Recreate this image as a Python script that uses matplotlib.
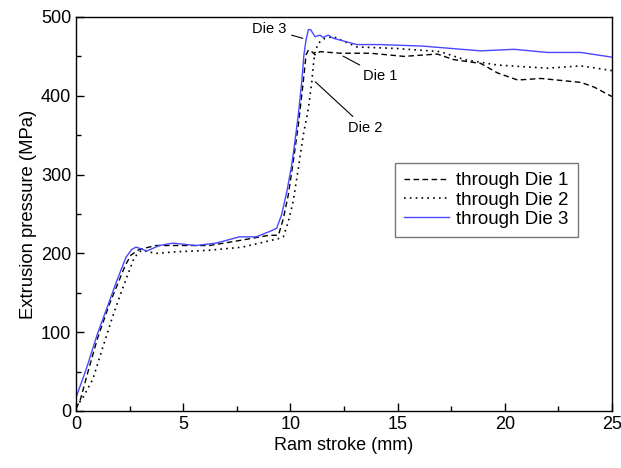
import matplotlib.pyplot as plt
from matplotlib.ticker import MultipleLocator

plt.rcParams['font.family'] = ['Liberation Sans', 'DejaVu Sans']

# through Die 1 (dashed)
x1 = [0, 0.2, 0.54, 1.0, 1.55, 2.0, 2.3, 2.57, 2.95, 3.73, 4.66, 6.22, 7.77, 9.0,
      9.44, 9.67, 9.9, 10.13, 10.37, 10.6, 10.73, 10.84, 11.0, 11.15, 11.38, 12.34,
      13.74, 15.3, 16.85, 17.6, 18.88, 19.66, 20.6, 21.68, 23.55, 24.17, 25.0]
p1 = [3, 14, 48, 92, 135, 165, 185, 198, 205, 210, 210, 210, 217, 223,
      223, 244, 274, 316, 363, 418, 452, 458, 456, 452, 456, 454,
      454, 450, 453, 446, 441, 429, 420, 422, 417, 411, 399]

# through Die 2 (dotted)
x2 = [0, 0.3, 0.78, 1.24, 1.71, 2.1, 2.4, 2.72, 3.05, 3.73, 4.66, 6.22, 7.77,
      9.48, 9.67, 9.9, 10.13, 10.37, 10.6, 10.84, 11.0, 11.07, 11.15, 11.31, 11.61,
      12.0, 13.1, 14.98, 17.0, 18.1, 19.66, 21.99, 23.55, 25.0]
p2 = [5, 16, 40, 80, 120, 150, 172, 195, 204, 200, 202, 204, 208,
      219, 221, 240, 266, 308, 350, 384, 418, 439, 456, 467, 473,
      475, 462, 460, 456, 446, 439, 435, 438, 432]

# through Die 3 (solid)
x3 = [0, 0.5, 1.0, 1.5, 1.9, 2.33, 2.6, 2.8, 3.11, 3.3, 3.89, 4.51, 5.6, 6.53,
      7.62, 8.4, 9.05, 9.36, 9.59, 9.83, 10.06, 10.21, 10.37, 10.53, 10.63, 10.73,
      10.84, 10.94, 11.15, 11.38, 11.53, 11.77, 12.0, 13.1, 14.2, 16.2, 18.88, 20.43,
      21.99, 23.55, 25.0]
p3 = [17, 55, 98, 135, 165, 195, 205, 208, 205, 203, 210, 213, 210, 213,
      221, 221, 228, 232, 249, 278, 312, 342, 376, 418, 452, 471,
      484, 484, 475, 477, 474, 477, 473, 465, 465, 463, 457, 459,
      455, 455, 449]

fig = plt.figure(figsize=(6.21, 4.68), dpi=100)
ax = fig.add_axes([0.1224, 0.1218, 0.8631, 0.8419])

ax.plot(x1, p1, color='black', ls=(0, (4, 2.5)), lw=1.0, label='through Die 1')
ax.plot(x2, p2, color='black', ls=(0, (1, 2.5)), lw=1.2, label='through Die 2')
ax.plot(x3, p3, color='#4848ff', lw=1.0, label='through Die 3')

ax.set_xlim(0, 25)
ax.set_ylim(0, 500)
ax.xaxis.set_major_locator(MultipleLocator(5))
ax.xaxis.set_minor_locator(MultipleLocator(2.5))
ax.yaxis.set_major_locator(MultipleLocator(100))
ax.yaxis.set_minor_locator(MultipleLocator(50))
ax.tick_params(which='both', direction='in', labelsize=13, width=1)
ax.tick_params(which='major', length=6)
ax.tick_params(which='minor', length=3.5)
for s in ax.spines.values():
    s.set_linewidth(1.0)

ax.set_xlabel('Ram stroke (mm)', fontsize=13, labelpad=3)
ax.set_ylabel('Extrusion pressure (MPa)', fontsize=13.3, labelpad=3)

kw = dict(fontsize=10.5, arrowprops=dict(arrowstyle='-', color='black', lw=0.8))
ax.annotate('Die 3', xy=(10.7, 472), xytext=(9.8, 485), ha='right', va='center', **kw)
ax.annotate('Die 1', xy=(12.34, 452), xytext=(13.4, 425), ha='left', va='center', **kw)
ax.annotate('Die 2', xy=(11.07, 420), xytext=(12.7, 359), ha='left', va='center', **kw)

ax.legend(loc='upper left', bbox_to_anchor=(0.595, 0.63), borderaxespad=0,
          fontsize=13.5, frameon=True, fancybox=False, edgecolor='#555555',
          handlelength=2.4, borderpad=0.5, labelspacing=0.12, handletextpad=0.35)

fig.savefig('out.png', dpi=100)
